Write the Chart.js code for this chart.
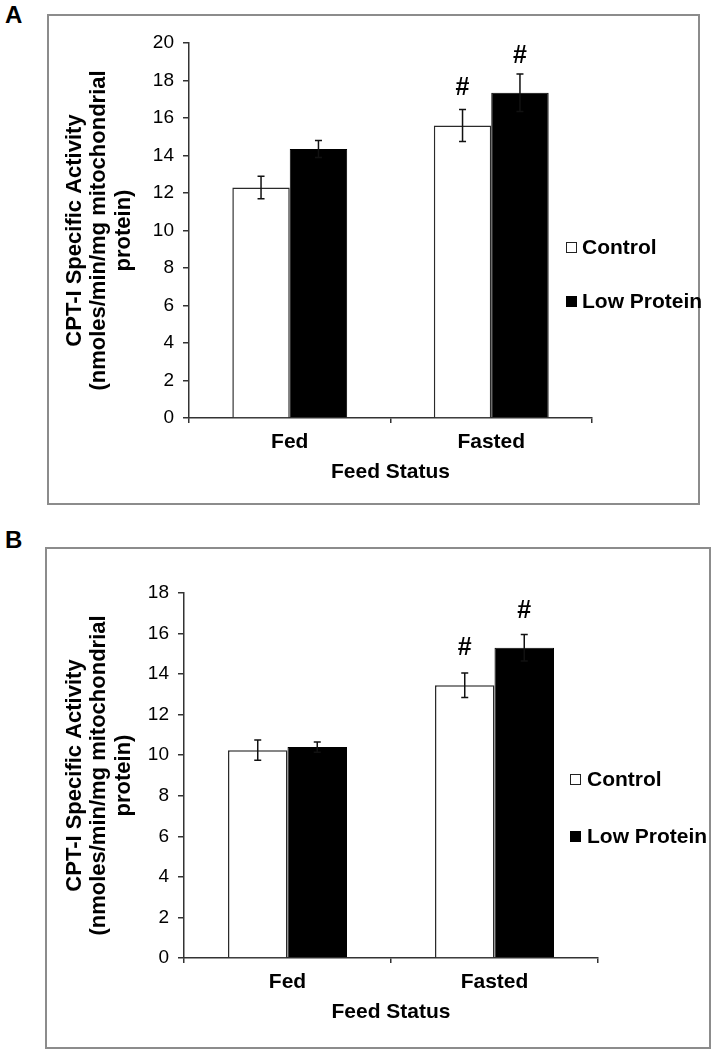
<!DOCTYPE html>
<html><head><meta charset="utf-8">
<script src="https://cdn.jsdelivr.net/npm/chart.js@4.4.1/dist/chart.umd.min.js"></script>
<style>
html,body{margin:0;padding:0;background:#fff;}
body{width:717px;height:1050px;position:relative;overflow:hidden;font-family:"Liberation Sans",Arial,sans-serif;}
.frame{position:absolute;border:2px solid #8c8c8c;box-sizing:border-box;}
.letter{position:absolute;font-weight:bold;font-size:24px;line-height:1;color:#000;}
.cv{position:absolute;left:0;}
.legend{position:absolute;left:0;top:0;font-weight:bold;font-size:21px;color:#000;}
.legend .item{position:absolute;height:24px;white-space:nowrap;display:flex;align-items:center;}
.legend .box{width:11px;height:11px;box-sizing:border-box;border:1.5px solid #222;}
</style></head>
<body>
<div class="letter" style="left:5px;top:3px">A</div>
<div class="frame" style="left:47px;top:14px;width:653px;height:491px"></div>
<div class="letter" style="left:5px;top:528px">B</div>
<div class="frame" style="left:45px;top:547px;width:666px;height:502px"></div>
<canvas id="cA" class="cv" style="top:0" width="717" height="505"></canvas>
<canvas id="cB" class="cv" style="top:505px" width="717" height="545"></canvas>
<div id="legA" class="legend"></div>
<div id="legB" class="legend"></div>
<script>
// ---- data ----
const categories = ['Fed', 'Fasted'];
const seriesLabels = ['Control', 'Low Protein'];
const xTitle = 'Feed Status';
const yTitle = ['CPT-I Specific Activity', '(nmoles/min/mg mitochondrial', 'protein)'];

// Panel A
const controlA = [12.3, 15.6];
const controlErrA = [0.6, 0.85];
const lowProteinA = [14.35, 17.35];
const lowProteinErrA = [0.45, 1.0];
const controlMarksA = ['', '#'];
const lowProteinMarksA = ['', '#'];
const yMaxA = 20;

// Panel B
const controlB = [10.25, 13.45];
const controlErrB = [0.5, 0.6];
const lowProteinB = [10.4, 15.3];
const lowProteinErrB = [0.25, 0.65];
const controlMarksB = ['', '#'];
const lowProteinMarksB = ['', '#'];
const yMaxB = 18;
const yStep = 2;

// ---- rendering ----
const FAM = '"Liberation Sans", Arial, sans-serif';

const errorBarPlugin = {
  id: 'errorBars',
  afterDatasetsDraw(chart, args, opts) {
    const ctx = chart.ctx;
    const y = chart.scales.y;
    chart.data.datasets.forEach((ds, i) => {
      const meta = chart.getDatasetMeta(i);
      meta.data.forEach((bar, j) => {
        const v = ds.data[j], e = ds.errors[j];
        const yTop = y.getPixelForValue(v + e), yBot = y.getPixelForValue(v - e);
        ctx.save();
        ctx.strokeStyle = '#111';
        ctx.lineWidth = 1.5;
        ctx.beginPath();
        ctx.moveTo(bar.x, yTop); ctx.lineTo(bar.x, yBot);
        ctx.moveTo(bar.x - opts.cap, yTop); ctx.lineTo(bar.x + opts.cap, yTop);
        ctx.moveTo(bar.x - opts.cap, yBot); ctx.lineTo(bar.x + opts.cap, yBot);
        ctx.stroke();
        if (ds.marks && ds.marks[j]) {
          ctx.fillStyle = '#000';
          ctx.font = 'bold 25px ' + FAM;
          ctx.textAlign = 'center';
          ctx.textBaseline = 'middle';
          ctx.fillText(ds.marks[j], bar.x, y.getPixelForValue(v) - opts.markOffset);
        }
        ctx.restore();
      });
    });
  }
};

function makeChart(id, c) {
  return new Chart(document.getElementById(id), {
    type: 'bar',
    data: {
      labels: categories,
      datasets: [
        { label: seriesLabels[0], data: c.control, errors: c.controlErr, marks: c.controlMarks,
          backgroundColor: '#ffffff', borderColor: '#2a2a2a', borderWidth: 1.5, borderSkipped: 'bottom' },
        { label: seriesLabels[1], data: c.lp, errors: c.lpErr, marks: c.lpMarks,
          backgroundColor: '#000000', borderColor: '#000000', borderWidth: 1, borderSkipped: 'bottom' }
      ]
    },
    options: {
      responsive: false, animation: false, devicePixelRatio: 1,
      categoryPercentage: c.catPct, barPercentage: 1,
      layout: { padding: { top: c.padTop, right: c.padRight, bottom: 0, left: 0 } },
      plugins: { legend: { display: false }, tooltip: { enabled: false },
                 errorBars: { cap: 3.5, markOffset: 37 } },
      scales: {
        x: {
          grid: { offset: true, drawOnChartArea: false, drawTicks: true, tickLength: 5, color: '#333', lineWidth: 1.5 },
          border: { display: true, color: '#333', width: 1.5 },
          ticks: { color: '#000', font: { family: FAM, size: 21, weight: 'bold' }, padding: 7 },
          title: { display: true, text: xTitle, color: '#000', font: { family: FAM, size: 21, weight: 'bold' },
                   padding: { top: 0, bottom: c.xTitlePad } },
          afterFit(s) { s.height = c.xHeight; }
        },
        y: {
          min: 0, max: c.yMax,
          ticks: { stepSize: yStep, color: '#000', font: { family: FAM, size: 19 }, padding: 9 },
          grid: { drawOnChartArea: false, drawTicks: true, tickLength: 6, color: '#333', lineWidth: 1.5 },
          border: { display: true, color: '#333', width: 1.5 },
          title: { display: true, text: yTitle, color: '#000', font: { family: FAM, size: 22, weight: 'bold', lineHeight: 1.1 },
                   padding: { top: c.yTitlePad, bottom: 0 } },
          afterFit(s) { s.width = c.yWidth; }
        }
      }
    },
    plugins: [errorBarPlugin]
  });
}

function buildLegend(chart, el, boxX, textX, ys) {
  chart.data.datasets.forEach((ds, i) => {
    const item = document.createElement('div');
    item.className = 'item';
    item.style.left = boxX + 'px';
    item.style.top = (ys[i] - 12) + 'px';
    const box = document.createElement('span');
    box.className = 'box';
    box.style.background = ds.backgroundColor;
    box.style.borderColor = i === 0 ? '#222' : '#000';
    box.style.marginRight = (textX - boxX - 11) + 'px';
    const t = document.createElement('span');
    t.textContent = ds.label;
    item.appendChild(box); item.appendChild(t);
    el.appendChild(item);
  });
}

const chartA = makeChart('cA', {
  control: controlA, controlErr: controlErrA, controlMarks: controlMarksA,
  lp: lowProteinA, lpErr: lowProteinErrA, lpMarks: lowProteinMarksA,
  yMax: yMaxA, catPct: 0.57, padTop: 43, padRight: 125, xHeight: 87, xTitlePad: 20,
  yWidth: 189, yTitlePad: 63
});
const chartB = makeChart('cB', {
  control: controlB, controlErr: controlErrB, controlMarks: controlMarksB,
  lp: lowProteinB, lpErr: lowProteinErrB, lpMarks: lowProteinMarksB,
  yMax: yMaxB, catPct: 0.575, padTop: 88, padRight: 119, xHeight: 92, xTitlePad: 25,
  yWidth: 184, yTitlePad: 63
});
buildLegend(chartA, document.getElementById('legA'), 566, 582, [247, 301]);
buildLegend(chartB, document.getElementById('legB'), 570, 587, [779, 836]);
</script>
</body></html>
